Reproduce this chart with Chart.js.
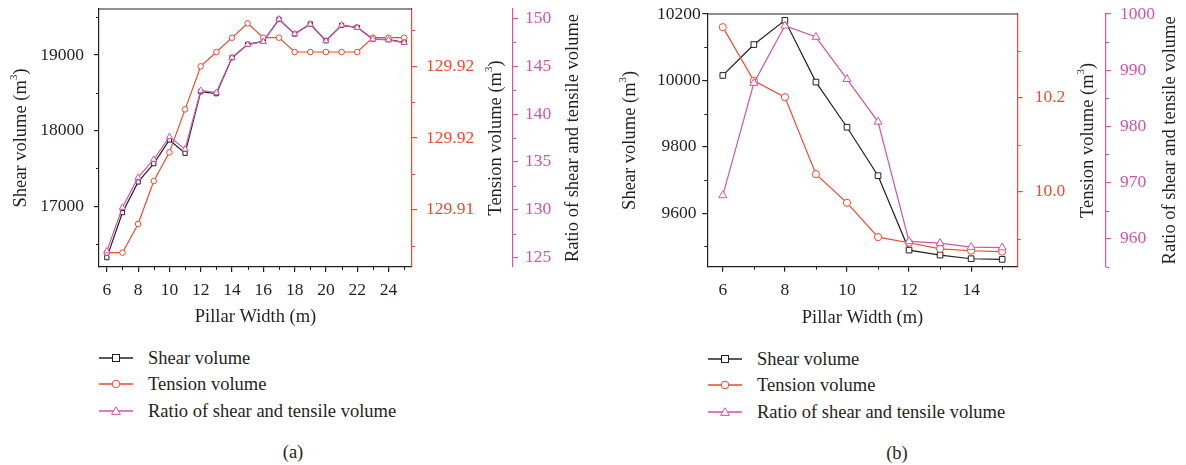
<!DOCTYPE html>
<html><head><meta charset="utf-8">
<script src="https://cdn.jsdelivr.net/npm/chart.js@4.4.0/dist/chart.umd.min.js"></script>
<style>
html,body{margin:0;padding:0;background:#fff;width:1186px;height:465px;overflow:hidden;}
canvas{position:absolute;top:0;}
#ca{left:0;} #cb{left:593px;}
.row{position:absolute;height:24px;display:flex;align-items:center;font-family:"Liberation Serif","Times New Roman",serif;font-size:18.5px;color:#231f20;white-space:nowrap;}
.row svg{flex:none;}
.row span{margin-left:15px;}
.lab{position:absolute;font-family:"Liberation Serif","Times New Roman",serif;font-size:18.5px;color:#231f20;transform:translate(-50%,-50%);}
</style></head>
<body>
<canvas id="ca" width="593" height="330"></canvas>
<canvas id="cb" width="593" height="330"></canvas>
<div id="legends"></div>
<script>
// ---------- data: panel (a) ----------
const widthA   = [6,7,8,9,10,11,12,13,14,15,16,17,18,19,20,21,22,23,24,25];
const shearA   = [16322,16917,17322,17564,17877,17701,18515,18489,18964,19141,19181,19472,19277,19410,19189,19392,19366,19211,19202,19168];
const tensionA = [129.907,129.907,129.909,129.912,129.914,129.917,129.920,129.921,129.922,129.923,129.922,129.922,129.921,129.921,129.921,129.921,129.921,129.922,129.922,129.922];
const ratioA   = [125.66,130.23,133.37,135.25,137.62,136.33,142.47,142.26,145.92,147.28,147.59,149.93,148.39,149.40,147.66,149.30,149.06,147.84,147.76,147.49];
const xTicksA       = [6,8,10,12,14,16,18,20,22,24];
const shearTicksA   = [17000,18000,19000];
const tensionTicksA = [129.91,129.915,129.92];
const ratioTicksA   = [125,130,135,140,145,150];

// ---------- data: panel (b) ----------
const widthB   = [6,7,8,9,10,11,12,13,14,15];
const shearB   = [10015,10108,10181,9995,9859,9713,9489,9474,9463,9461];
const tensionB = [10.350,10.236,10.201,10.037,9.976,9.903,9.891,9.878,9.874,9.872];
const ratioB   = [967.7,987.7,997.9,995.9,988.4,980.8,959.5,959.2,958.5,958.4];
const xTicksB       = [6,8,10,12,14];
const shearTicksB   = [9600,9800,10000,10200];
const tensionTicksB = [10.0,10.2];
const ratioTicksB   = [960,970,980,990,1000];

const seriesNames = ['Shear volume','Tension volume','Ratio of shear and tensile volume'];
const axisTitles = {x:'Pillar Width (m)', shear:'Shear volume (m', tension:'Tension volume (m', ratio:'Ratio of shear and tensile volume'};

const C = {black:'#231f20', red:'#f2482a', mag:'#d252ad'};
const FONT = '"Liberation Serif","Times New Roman",serif';

function drawTitle(c, t, cx, cy, rot, size) {
  const big = size + 'px ' + FONT, small = Math.round(size*0.62) + 'px ' + FONT;
  c.save();
  c.translate(cx, cy); c.rotate(rot);
  c.fillStyle = C.black; c.textBaseline = 'middle'; c.textAlign = 'left';
  c.font = big; const w1 = c.measureText(t.text).width;
  let w2 = 0, w3 = 0;
  if (t.sup) { c.font = small; w2 = c.measureText(t.sup).width; c.font = big; w3 = c.measureText(t.tail).width; }
  let x = -(w1 + w2 + w3) / 2;
  c.font = big; c.fillText(t.text, x, 0); x += w1;
  if (t.sup) {
    c.font = small; c.fillText(t.sup, x, -size*0.38); x += w2;
    c.font = big; c.fillText(t.tail, x, 0);
  }
  c.restore();
}

const decor = {
  id: 'decor',
  afterDraw(chart, args, opts) {
    const c = chart.ctx, a = chart.chartArea;
    c.save();
    c.strokeStyle = C.black; c.lineWidth = 1.2;
    c.beginPath(); c.moveTo(a.left, a.top); c.lineTo(a.right, a.top); c.stroke();
    for (const m of opts.minor) {
      const s = chart.scales[m.id];
      const majors = s.ticks.map(t => t.value);
      c.strokeStyle = m.color; c.lineWidth = 1;
      const start = Math.ceil((s.min - 1e-9) / m.step);
      for (let k = start; k * m.step <= s.max + 1e-9; k++) {
        const v = k * m.step;
        if (majors.some(mv => Math.abs(mv - v) < m.step * 1e-3)) continue;
        const p = Math.round(s.getPixelForValue(v)) + 0.5;
        c.beginPath();
        if (s.position === 'bottom') { c.moveTo(p, s.top); c.lineTo(p, s.top + m.len); }
        else if (s.position === 'left') { c.moveTo(s.right, p); c.lineTo(s.right - m.len, p); }
        else { c.moveTo(s.left, p); c.lineTo(s.left + m.len, p); }
        c.stroke();
      }
    }
    const midY = (a.top + a.bottom) / 2, midX = (a.left + a.right) / 2;
    for (const t of opts.titles) {
      drawTitle(c, t, t.x == null ? midX : t.x, t.y == null ? midY : t.y, t.rot, opts.titleSize);
    }
    c.restore();
  }
};

function makePanel(id, P) {
  const fix = arr => s => { s.ticks = arr.map(v => ({value: v})); };
  const fitV = w => s => { s.width = w; s.paddingTop = 0; s.paddingBottom = 0; };
  const plain = v => String(v);
  const tf = {family: FONT, size: 17.5};
  const gridOf = (col) => ({display: true, drawOnChartArea: false, drawTicks: true, tickLength: 5, color: col, lineWidth: 1.2});
  const ds = (label, ys, axis, col, style, r, order) => ({
    label, data: P.w.map((w, i) => ({x: w, y: ys[i]})), yAxisID: axis,
    borderColor: col, backgroundColor: '#fff', pointBackgroundColor: '#fff', pointBorderColor: col,
    pointStyle: style, pointRadius: r, pointBorderWidth: 1, borderWidth: 1.2, tension: 0, order
  });
  new Chart(document.getElementById(id), {
    type: 'line',
    data: {datasets: [
      ds(seriesNames[0], P.shear, 'yS', C.black, 'rect', P.rRect, 2),
      ds(seriesNames[1], P.tension, 'yT', C.red, 'circle', P.rCirc, 1),
      ds(seriesNames[2], P.ratio, 'yR', C.mag, 'triangle', P.rTri, 0)
    ]},
    options: {
      responsive: false, animation: false, devicePixelRatio: 1,
      layout: {padding: {top: P.area.top, left: 0, right: 0, bottom: 0}},
      plugins: {
        legend: {display: false}, tooltip: {enabled: false},
        decor: {
          titleSize: 18.5,
          minor: [
            {id: 'x', step: 1, len: 3, color: C.black},
            {id: 'yS', step: P.minS, len: 3, color: C.black},
            {id: 'yT', step: P.minT, len: 3, color: C.red},
            {id: 'yR', step: P.minR, len: 3, color: C.mag}
          ],
          titles: [
            {text: axisTitles.x, x: null, y: P.xTitleY, rot: 0},
            {text: axisTitles.shear, sup: '3', tail: ')', x: P.posS, y: null, rot: -Math.PI/2},
            {text: axisTitles.tension, sup: '3', tail: ')', x: P.posT, y: null, rot: -Math.PI/2},
            {text: axisTitles.ratio, x: P.posR, y: null, rot: -Math.PI/2}
          ]
        }
      },
      scales: {
        x: {type: 'linear', position: 'bottom', min: P.xr[0], max: P.xr[1],
            afterBuildTicks: fix(P.xTicks),
            afterFit: s => { s.height = P.H - P.area.bottom; s.paddingLeft = 0; s.paddingRight = 0; },
            grid: gridOf(C.black), border: {display: true, color: C.black, width: 1.2},
            ticks: {color: C.black, font: tf, padding: P.xPad, maxRotation: 0, autoSkip: false, callback: plain}},
        yS: {type: 'linear', position: 'left', min: P.sr[0], max: P.sr[1],
            afterBuildTicks: fix(P.sTicks), afterFit: fitV(P.area.left),
            grid: gridOf(C.black), border: {display: true, color: C.black, width: 1.2},
            ticks: {color: C.black, font: tf, padding: P.sPad, crossAlign: P.sAlign, autoSkip: false, callback: plain}},
        yT: {type: 'linear', position: 'right', weight: 0, min: P.tr[0], max: P.tr[1],
            afterBuildTicks: fix(P.tTicks), afterFit: fitV(P.magX - P.area.right),
            grid: gridOf(C.red), border: {display: true, color: C.red, width: 1.2},
            ticks: {color: C.red, font: tf, padding: P.tPad, autoSkip: false, callback: P.tFmt}},
        yR: {type: 'linear', position: 'right', weight: 1, min: P.rr[0], max: P.rr[1],
            afterBuildTicks: fix(P.rTicks), afterFit: fitV(P.W - P.magX),
            grid: gridOf(C.mag), border: {display: true, color: C.mag, width: 1.2},
            ticks: {color: C.mag, font: tf, padding: P.rPad, autoSkip: false, callback: plain}}
      }
    },
    plugins: [decor]
  });
}

makePanel('ca', {
  W: 593, H: 330, area: {left: 99, right: 412, top: 9, bottom: 267}, magX: 513,
  w: widthA, shear: shearA, tension: tensionA, ratio: ratioA,
  xr: [5.5, 25.5], sr: [16198, 19608], tr: [129.906, 129.924], rr: [124, 151],
  xTicks: xTicksA, sTicks: shearTicksA, tTicks: tensionTicksA, rTicks: ratioTicksA,
  minS: 500, minT: 0.0025, minR: 2.5,
  xPad: 8, sPad: 10, sAlign: 'near', tPad: 9, rPad: 7,
  tFmt: v => (Math.round(v * 100 + 1e-6) / 100).toFixed(2),
  rRect: 3.0, rCirc: 2.8, rTri: 3.6,
  xTitleY: 317, posS: 21.5, posT: 496, posR: 573.5
});
makePanel('cb', {
  W: 593, H: 330, area: {left: 114.3, right: 424.7, top: 14, bottom: 266.7}, magX: 513,
  w: widthB, shear: shearB, tension: tensionB, ratio: ratioB,
  xr: [5.5, 15.5], sr: [9439, 10200], tr: [9.840, 10.378], rr: [955, 1000],
  xTicks: xTicksB, sTicks: shearTicksB, tTicks: tensionTicksB, rTicks: ratioTicksB,
  minS: 100, minT: 0.1, minR: 5,
  xPad: 8, sPad: 1.5, sAlign: 'center', tPad: 12, rPad: 9,
  tFmt: v => v.toFixed(1),
  rRect: 4, rCirc: 3.6, rTri: 4.6,
  xTitleY: 318, posS: 37, posT: 495, posR: 577
});

// ---------- HTML legends ----------
function markerSvg(kind, col) {
  let m = '';
  if (kind === 'rect') m = `<rect x="13.5" y="3.5" width="7" height="7" fill="#fff" stroke="${col}" stroke-width="1"/>`;
  if (kind === 'circle') m = `<circle cx="17" cy="7" r="3.8" fill="#fff" stroke="${col}" stroke-width="1"/>`;
  if (kind === 'triangle') m = `<polygon points="17,2.8 21.4,10.4 12.6,10.4" fill="#fff" stroke="${col}" stroke-width="1"/>`;
  return `<svg width="34" height="14" viewBox="0 0 34 14"><line x1="0" y1="7" x2="34" y2="7" stroke="${col}" stroke-width="1.3"/>${m}</svg>`;
}
const legHost = document.getElementById('legends');
const kinds = [['rect', C.black], ['circle', C.red], ['triangle', C.mag]];
function legend(x, ys, label, lx, ly) {
  ys.forEach((y, i) => {
    const d = document.createElement('div');
    d.className = 'row';
    d.style.left = x + 'px'; d.style.top = (y - 12) + 'px';
    d.innerHTML = markerSvg(kinds[i][0], kinds[i][1]) + `<span>${seriesNames[i]}</span>`;
    legHost.appendChild(d);
  });
  const l = document.createElement('div');
  l.className = 'lab'; l.style.left = lx + 'px'; l.style.top = ly + 'px'; l.textContent = label;
  legHost.appendChild(l);
}
legend(99, [358, 384, 411], '(a)', 293, 452);
legend(708, [359, 385, 412], '(b)', 897, 453);
</script>
</body></html>
